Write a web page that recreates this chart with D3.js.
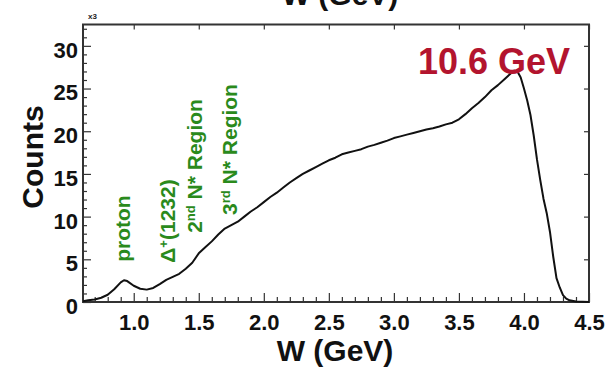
<!DOCTYPE html>
<html>
<head>
<meta charset="utf-8">
<script src="https://cdn.jsdelivr.net/npm/d3@7"></script>
<style>
  html, body { margin: 0; padding: 0; background: #fff; }
  svg { display: block; font-family: "Liberation Sans", Arial, Helvetica, sans-serif; }
</style>
</head>
<body>
<svg id="chart" width="616" height="368"></svg>
<script>
// Invariant-mass spectrum W (GeV), counts in thousands
const wValues = [0.61, 0.65, 0.70, 0.75, 0.80, 0.85, 0.90, 0.925, 0.95, 1.00,
  1.05, 1.10, 1.15, 1.20, 1.25, 1.30, 1.35, 1.40, 1.45, 1.50,
  1.55, 1.60, 1.65, 1.70, 1.75, 1.80, 1.85, 1.90, 1.95, 2.00,
  2.05, 2.10, 2.15, 2.20, 2.25, 2.30, 2.35, 2.40, 2.45, 2.50,
  2.55, 2.60, 2.65, 2.70, 2.75, 2.80, 2.85, 2.90, 2.95, 3.00,
  3.05, 3.10, 3.15, 3.20, 3.25, 3.30, 3.35, 3.40, 3.45, 3.50,
  3.55, 3.60, 3.65, 3.70, 3.75, 3.80, 3.85, 3.90, 3.925, 3.95,
  3.975, 4.00, 4.025, 4.05, 4.075, 4.10, 4.125, 4.15, 4.175, 4.20,
  4.225, 4.25, 4.275, 4.30, 4.325, 4.35, 4.40, 4.45, 4.50];
const counts = [0.1, 0.2, 0.3, 0.5, 0.85, 1.5, 2.3, 2.55, 2.45, 1.9,
  1.55, 1.45, 1.65, 2.1, 2.6, 2.95, 3.3, 3.9, 4.6, 5.7,
  6.4, 7.1, 7.9, 8.6, 9.0, 9.4, 10.0, 10.6, 11.1, 11.7,
  12.3, 12.8, 13.4, 14.0, 14.5, 15.0, 15.4, 15.8, 16.2, 16.6,
  16.9, 17.3, 17.5, 17.7, 17.9, 18.2, 18.4, 18.65, 18.9, 19.2,
  19.4, 19.6, 19.8, 20.0, 20.2, 20.35, 20.55, 20.8, 21.0, 21.4,
  22.0, 22.7, 23.3, 24.0, 24.8, 25.4, 26.1, 26.8, 27.1, 27.0,
  26.3, 25.0, 23.6, 21.9, 19.5, 16.7, 14.3, 12.1, 10.4, 8.2,
  5.3, 2.8, 1.7, 0.8, 0.4, 0.2, 0.05, 0.02, 0];

const xTickValues = [1.0, 1.5, 2.0, 2.5, 3.0, 3.5, 4.0, 4.5];
const xMinorTicks = [0.7, 0.8, 0.9, 1.1, 1.2, 1.3, 1.4, 1.6, 1.7, 1.8, 1.9, 2.1, 2.2, 2.3, 2.4,
  2.6, 2.7, 2.8, 2.9, 3.1, 3.2, 3.3, 3.4, 3.6, 3.7, 3.8, 3.9, 4.1, 4.2, 4.3, 4.4];
const yTickValues = [0, 5, 10, 15, 20, 25, 30];
const yMinorTicks = [1, 2, 3, 4, 6, 7, 8, 9, 11, 12, 13, 14, 16, 17, 18, 19, 21, 22, 23, 24, 26, 27, 28, 29, 31, 32];

// Resonance-region annotations: label, W position of label column, start count level
const regionLabels = [
  { parts: [["proton", false]], w: 0.975, v: 4.7 },
  { parts: [["Δ", false], ["+", true], ["(1232)", false]], w: 1.315, v: 4.6 },
  { parts: [["2", false], ["nd", true], [" N* Region", false]], w: 1.525, v: 8.1 },
  { parts: [["3", false], ["rd", true], [" N* Region", false]], w: 1.795, v: 10.2 }
];

const svg = d3.select("#chart");
const x = d3.scaleLinear().domain([0.61, 4.5]).range([83, 589]);
const y = d3.scaleLinear().domain([0, 32.5]).range([302, 24.5]);

const frameColor = "#333";

// heading running off the top edge
svg.append("text")
  .attr("x", 340).attr("y", 5)
  .attr("text-anchor", "middle")
  .attr("font-size", 30).attr("font-weight", "bold")
  .attr("fill", "#111")
  .text("W (GeV)");

// bottom axis: major ticks with labels, minor ticks inward
const xAxis = svg.append("g").attr("transform", `translate(0,${y(0)})`)
  .call(d3.axisBottom(x).tickValues(xTickValues).tickSizeInner(-9).tickSizeOuter(0)
    .tickPadding(12).tickFormat(d3.format(".1f")));
xAxis.select(".domain").remove();
xAxis.selectAll(".tick line").attr("stroke", frameColor).attr("stroke-width", 1.2);
xAxis.selectAll(".tick text").attr("font-size", 22).attr("font-weight", "bold")
  .attr("fill", "#111").attr("font-family", "Liberation Sans, Arial, sans-serif");

const xMinor = svg.append("g").attr("transform", `translate(0,${y(0)})`)
  .call(d3.axisBottom(x).tickValues(xMinorTicks).tickSizeInner(-5).tickSizeOuter(0).tickFormat(""));
xMinor.select(".domain").remove();
xMinor.selectAll(".tick line").attr("stroke", frameColor).attr("stroke-width", 1.2);

// top axis: major ticks only
const xTop = svg.append("g").attr("transform", `translate(0,${y.range()[1]})`)
  .call(d3.axisTop(x).tickValues(xTickValues).tickSizeInner(-5).tickSizeOuter(0).tickFormat(""));
xTop.select(".domain").remove();
xTop.selectAll(".tick line").attr("stroke", frameColor).attr("stroke-width", 1.2);

// left axis
const yAxis = svg.append("g").attr("transform", `translate(${x.range()[0]},0)`)
  .call(d3.axisLeft(y).tickValues(yTickValues).tickSizeInner(-8).tickSizeOuter(0).tickPadding(5));
yAxis.select(".domain").remove();
yAxis.selectAll(".tick line").attr("stroke", frameColor).attr("stroke-width", 1.2);
yAxis.selectAll(".tick text").attr("font-size", 22).attr("font-weight", "bold")
  .attr("fill", "#111").attr("dy", "0.52em")
  .attr("font-family", "Liberation Sans, Arial, sans-serif");

const yMinor = svg.append("g").attr("transform", `translate(${x.range()[0]},0)`)
  .call(d3.axisLeft(y).tickValues(yMinorTicks).tickSizeInner(-4).tickSizeOuter(0).tickFormat(""));
yMinor.select(".domain").remove();
yMinor.selectAll(".tick line").attr("stroke", frameColor).attr("stroke-width", 1.2);

// right axis: major ticks only
const yRight = svg.append("g").attr("transform", `translate(${x.range()[1]},0)`)
  .call(d3.axisRight(y).tickValues(yTickValues.slice(1)).tickSizeInner(-5).tickSizeOuter(0).tickFormat(""));
yRight.select(".domain").remove();
yRight.selectAll(".tick line").attr("stroke", frameColor).attr("stroke-width", 1.2);

// frame
svg.append("rect")
  .attr("x", x.range()[0]).attr("y", y.range()[1])
  .attr("width", x.range()[1] - x.range()[0])
  .attr("height", y.range()[0] - y.range()[1])
  .attr("fill", "none").attr("stroke", frameColor).attr("stroke-width", 2);

// multiplier note
svg.append("text")
  .attr("x", 88).attr("y", 19)
  .attr("font-size", 8).attr("font-weight", "bold").attr("fill", "#222")
  .text("x3");

// spectrum
const line = d3.line()
  .x((d, i) => x(wValues[i]))
  .y(d => y(d))
  .curve(d3.curveLinear);
svg.append("path")
  .datum(counts)
  .attr("d", line)
  .attr("fill", "none")
  .attr("stroke", "#111")
  .attr("stroke-width", 2)
  .attr("stroke-linejoin", "round");

// region labels (rotated, reading upward)
const green = "#2a8a1c";
regionLabels.forEach(r => {
  const t = svg.append("text")
    .attr("transform", `translate(${x(r.w)},${y(r.v)}) rotate(-90)`)
    .attr("font-size", 21).attr("font-weight", "bold").attr("fill", green);
  r.parts.forEach(([s, sup]) => {
    const ts = t.append("tspan").text(s);
    if (sup) ts.attr("font-size", 13).attr("baseline-shift", "super");
  });
});

// beam energy tag
svg.append("text")
  .attr("x", 418).attr("y", 74)
  .attr("font-size", 36).attr("font-weight", "bold")
  .attr("fill", "#b3142e")
  .text("10.6 GeV");

// axis titles
svg.append("text")
  .attr("x", 335).attr("y", 361)
  .attr("text-anchor", "middle")
  .attr("font-size", 30).attr("font-weight", "bold").attr("fill", "#111")
  .text("W (GeV)");

svg.append("text")
  .attr("transform", "translate(43,157) rotate(-90)")
  .attr("text-anchor", "middle")
  .attr("font-size", 30).attr("font-weight", "bold").attr("fill", "#111")
  .text("Counts");
</script>
</body>
</html>
